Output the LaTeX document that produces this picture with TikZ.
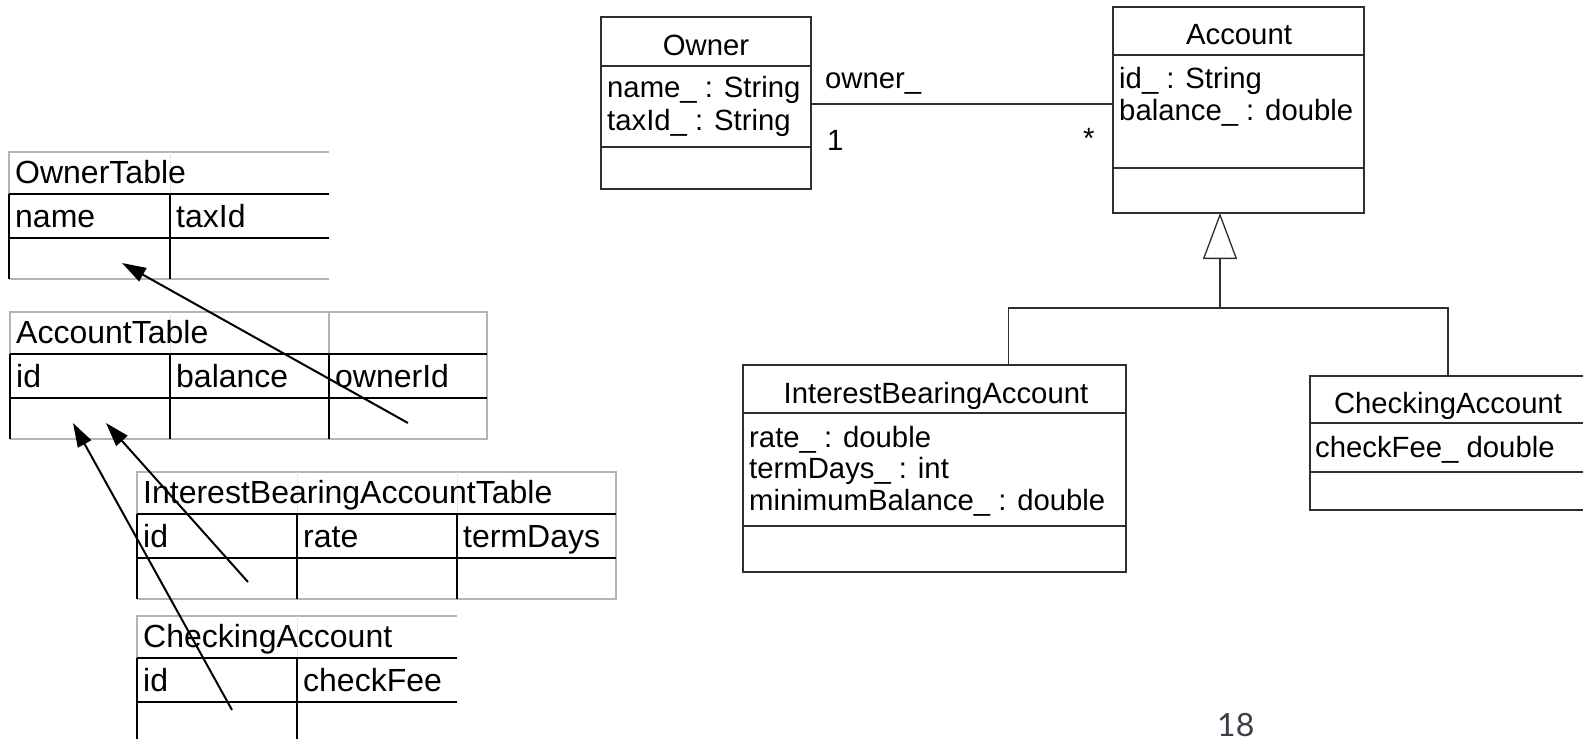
\documentclass[tikz,border=0pt]{standalone}
\usepackage{fontspec}
\setmainfont{Liberation Sans}
\newfontfamily\pagefont{Lato}
\usetikzlibrary{arrows.meta}

\definecolor{bordergray}{HTML}{B4B4B4}
\definecolor{faintgray}{HTML}{E6E6E6}
\definecolor{umlline}{HTML}{2E2E2E}
\definecolor{pagenum}{HTML}{3C3F4A}

\tikzset{
  gridline/.style={line width=2.6pt, black},
  frameline/.style={line width=2pt, bordergray},
  faintline/.style={line width=1pt, faintgray},
  cell/.style={anchor=base west, inner sep=0pt, font=\fontsize{32}{36}\selectfont},
  fkarrow/.style={line width=2pt, black, -{Triangle[length=24pt,width=15pt]}},
  uml/.style={line width=1.3pt, umlline},
  umlbox/.style={draw=umlline, line width=1.3pt, rectangle, anchor=north west, inner sep=0pt, outer sep=0pt},
  umltext/.style={inner sep=0pt, font=\fontsize{29.3}{33}\selectfont},
  umlattr/.style={umltext, anchor=base west},
  umltitle/.style={umltext, anchor=base},
}

\begin{document}
\begin{tikzpicture}[x=1pt, y=-1pt]
\useasboundingbox (0,0) rectangle (1583,739);
\fill[white] (0,0) rectangle (1583,739);

% ---------- relational tables ----------
% OwnerTable
\draw[frameline] (9,279) -- (329,279);
\draw[frameline] (9,194) -- (9,152) -- (329,152);
\draw[faintline] (170,152) -- (170,194);
\draw[gridline] (9,194) -- (329,194) (9,238) -- (329,238)
                (9,194) -- (9,279) (170,194) -- (170,279);
\node[cell] (ownerTable) at (15,183) {OwnerTable};
\node[cell] (ownerName)  at (15,227) {name};
\node[cell] (ownerTax)   at (176,227) {taxId};
\coordinate (ownerKey) at (122,263);

% AccountTable
\draw[frameline] (10,354) -- (10,312) -- (487,312) -- (487,439) -- (10,439);
\draw[frameline] (329,312) -- (329,354);
\draw[faintline] (170,312) -- (170,354);
\draw[gridline] (10,354) -- (487,354) (10,398) -- (487,398)
                (10,354) -- (10,439) (170,354) -- (170,439) (329,354) -- (329,439);
\node[cell] (acctTable)   at (16,343) {AccountTable};
\node[cell] (acctId)      at (16,387) {id};
\node[cell] (acctBalance) at (176,387) {balance};
\node[cell] (acctOwner)   at (335,387) {ownerId};
\coordinate (acctKeyA) at (73,423);
\coordinate (acctKeyB) at (106,423);
\coordinate (acctOwnerRef) at (408,423);

% InterestBearingAccountTable
\draw[frameline] (137,514) -- (137,472) -- (616,472) -- (616,599) -- (137,599);
\draw[faintline] (297,472) -- (297,514) (457,472) -- (457,514);
\draw[gridline] (137,514) -- (616,514) (137,558) -- (616,558)
                (137,514) -- (137,599) (297,514) -- (297,599) (457,514) -- (457,599);
\node[cell] (ibaTable) at (143,503) {InterestBearingAccountTable};
\node[cell] (ibaId)    at (143,547) {id};
\node[cell] (ibaRate)  at (303,547) {rate};
\node[cell] (ibaTerm)  at (463,547) {termDays};
\coordinate (ibaIdRef) at (248,582);

% CheckingAccount table
\draw[frameline] (137,658) -- (137,616) -- (457,616);
\draw[faintline] (297,616) -- (297,658);
\draw[gridline] (137,658) -- (457,658) (137,702) -- (457,702)
                (137,658) -- (137,750) (297,658) -- (297,750);
\node[cell] (chkTable) at (143,647) {CheckingAccount};
\node[cell] (chkId)    at (143,691) {id};
\node[cell] (chkFee)   at (303,691) {checkFee};
\coordinate (chkIdRef) at (232,710);

% foreign keys
\draw[fkarrow] (acctOwnerRef) -- (ownerKey);
\draw[fkarrow] (ibaIdRef) -- (acctKeyB);
\draw[fkarrow] (chkIdRef) -- (acctKeyA);

% ---------- class diagram ----------
% Owner
\node[umlbox, minimum width=210pt, minimum height=172pt] (owner) at (601,17) {};
\draw[uml] ([yshift=-49pt]owner.north west) -- ([yshift=-49pt]owner.north east);
\draw[uml] ([yshift=-130pt]owner.north west) -- ([yshift=-130pt]owner.north east);
\node[umltitle] (ownerCls) at (706,55) {Owner};
\node[umlattr] (ownerA1) at (607,97) {name\_ : String};
\node[umlattr] (ownerA2) at (607,130) {taxId\_ : String};

% Account
\node[umlbox, minimum width=251pt, minimum height=206pt] (account) at (1113,7) {};
\draw[uml] ([yshift=-48pt]account.north west) -- ([yshift=-48pt]account.north east);
\draw[uml] ([yshift=-161pt]account.north west) -- ([yshift=-161pt]account.north east);
\node[umltitle] (accountName) at (1239,44) {Account};
\node[umlattr] (accountA1) at (1119,88) {id\_ : String};
\node[umlattr] (accountA2) at (1119,120) {balance\_ : double};

% InterestBearingAccount
\node[umlbox, minimum width=383pt, minimum height=207pt] (iba) at (743,365) {};
\draw[uml] ([yshift=-48pt]iba.north west) -- ([yshift=-48pt]iba.north east);
\draw[uml] ([yshift=-161pt]iba.north west) -- ([yshift=-161pt]iba.north east);
\node[umltitle] (ibaName) at (936,403) {InterestBearingAccount};
\node[umlattr] (ibaA1) at (749,447) {rate\_ : double};
\node[umlattr] (ibaA2) at (749,478) {termDays\_ : int};
\node[umlattr] (ibaA3) at (749,510) {minimumBalance\_ : double};

% CheckingAccount
\node[umlbox, minimum width=276pt, minimum height=134pt] (chk) at (1310,376) {};
\draw[uml] ([yshift=-47pt]chk.north west) -- ([yshift=-47pt]chk.north east);
\draw[uml] ([yshift=-96pt]chk.north west) -- ([yshift=-96pt]chk.north east);
\node[umltitle] (chkName) at (1448,413) {CheckingAccount};
\node[umlattr] (chkA1) at (1315,457) {checkFee\_ double};

% association Owner -- Account
\draw[uml] ([yshift=-1pt]owner.east) -- ([yshift=-1pt]owner.east -| account.west);
\node[umlattr] (roleName) at (825,88) {owner\_};
\node[umlattr] (multOne)  at (827,150) {1};
\node[umlattr] (multMany) at (1083,148) {*};

% generalization
\coordinate (hub) at (1220,308);
\draw[uml, -{Triangle[open, length=46pt, width=34pt]}] (hub) -- (hub |- account.south);
\draw[uml] ([xshift=74pt]iba.north) |- (hub) -| (chk.north);

% page number
\node[anchor=base west, inner sep=0pt, text=pagenum,
      font=\pagefont\fontsize{32}{38}\selectfont] (pageNo) at (1217,736) {18};
\end{tikzpicture}
\end{document}
